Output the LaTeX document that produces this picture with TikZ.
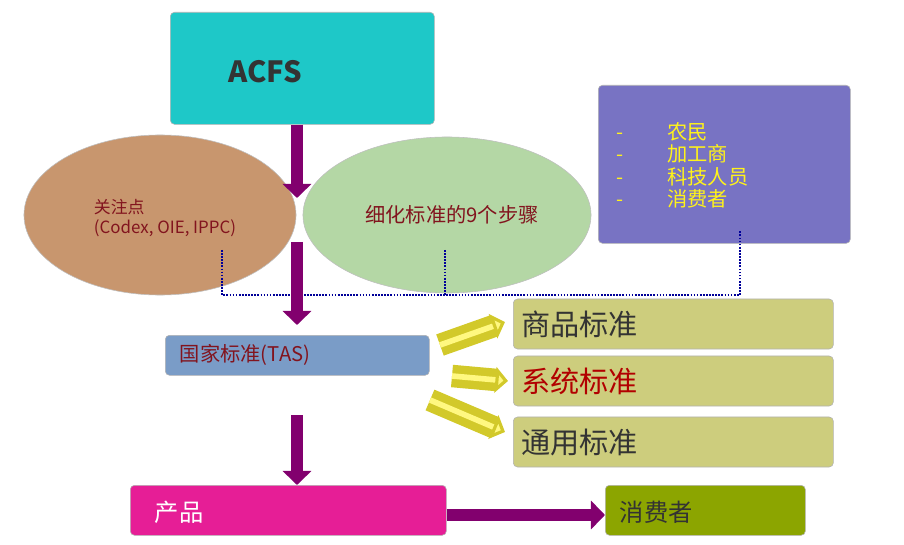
\documentclass[tikz,border=0pt]{standalone}
\usepackage{fontspec}
\setmainfont{Noto Sans CJK SC}
\usetikzlibrary{arrows.meta, positioning, shapes.geometric}
\definecolor{teal3d}{RGB}{30,200,200}
\definecolor{tan}{RGB}{200,150,110}
\definecolor{sage}{RGB}{180,215,165}
\definecolor{lilac}{RGB}{120,115,195}
\definecolor{steel}{RGB}{122,156,199}
\definecolor{olive3d}{RGB}{205,205,125}
\definecolor{pinkbar}{RGB}{230,30,150}
\definecolor{greenbar}{RGB}{140,165,0}
\definecolor{plum}{RGB}{130,0,110}
\definecolor{txtred}{RGB}{130,20,30}

\begin{document}
\begin{tikzpicture}[x=0.025cm, y=-0.025cm,
    box/.style={rectangle, rounded corners=3pt, draw=gray!60, inner sep=0pt},
    oval/.style={ellipse, draw=gray!50, inner sep=0pt},
    std/.style={box, fill=olive3d, minimum width=8cm, minimum height=1.25cm, anchor=west, font=\huge, text=black!80, text width=7.6cm},
    bigarrow/.style={-{Triangle[length=10pt, width=20pt]}, line width=8pt, draw=plum},
    hollow/.style={-{Triangle[length=9pt, width=18pt, fill=yellow!50]}, line width=6pt, draw=yellow!80!black, double=yellow!50, double distance=4pt},
    dotline/.style={densely dotted, very thick, draw=blue!60!black}
]
\useasboundingbox (0,0) rectangle (904,545);

\node[box, fill=teal3d, minimum width=6.6cm, minimum height=2.8cm, anchor=north west] (acfs) at (170,12) {};
\node[font=\huge\bfseries, text=black!80] at (265,72) {ACFS};

\node[oval, fill=tan, minimum width=6.8cm, minimum height=4cm] (focus) at (160,215) {};
\node[font=\large, text=txtred, align=left] at (165,218) {关注点\\(Codex, OIE, IPPC)};

\node[oval, fill=sage, minimum width=7.2cm, minimum height=3.9cm] (steps) at (447,215) {};
\node[font=\Large, text=txtred] at (452,215) {细化标准的9个步骤};

\node[box, fill=lilac, minimum width=6.3cm, minimum height=3.95cm, anchor=north west] (people) at (598,85) {};
\node[font=\Large, text=yellow!90, align=left, anchor=north west, inner sep=0pt] at (616,122)
  {-\hspace{1.1cm}农民\\[-2pt]-\hspace{1.1cm}加工商\\[-2pt]-\hspace{1.1cm}科技人员\\[-2pt]-\hspace{1.1cm}消费者};

\coordinate (fd) at (222,250);
\coordinate (sd) at (445,250);
\coordinate (pd) at (740,230);
\draw[dotline] (fd) |- (pd |- 0,295) -- (pd);
\draw[dotline] (sd) -- (sd |- 0,295);

\node[box, fill=steel, minimum width=6.6cm, minimum height=1cm, anchor=north west] (tas) at (165,335) {};
\node[font=\Large, text=txtred, anchor=west] at (175,355) {国家标准(TAS)};

\node[std] (s1) at (513,324) {商品标准};
\node[std, text=red!70!black] (s2) at (513,381) {系统标准};
\node[std] (s3) at (513,442) {通用标准};

\node[box, fill=pinkbar, minimum width=7.9cm, minimum height=1.25cm, anchor=north west] (prod) at (130,485) {};
\node[font=\LARGE, text=white, anchor=west] at (150,512) {产品};
\node[box, fill=greenbar, minimum width=5cm, minimum height=1.25cm, anchor=north west] (cons) at (605,485) {};
\node[font=\LARGE, text=black!80, anchor=west] at (615,512) {消费者};

\draw[bigarrow] (acfs.south -| 297,0) -- (297,198);
\draw[bigarrow] (297,242) -- (297,325);
\draw[bigarrow] (297,415) -- (297,485);
\draw[bigarrow] (prod.east |- 0,515) -- (cons.west |- 0,515);

\draw[hollow] (440,345) -- (505,322);
\draw[hollow] (452,376) -- (508,381);
\draw[hollow] (430,400) -- (505,432);
\end{tikzpicture}
\end{document}
